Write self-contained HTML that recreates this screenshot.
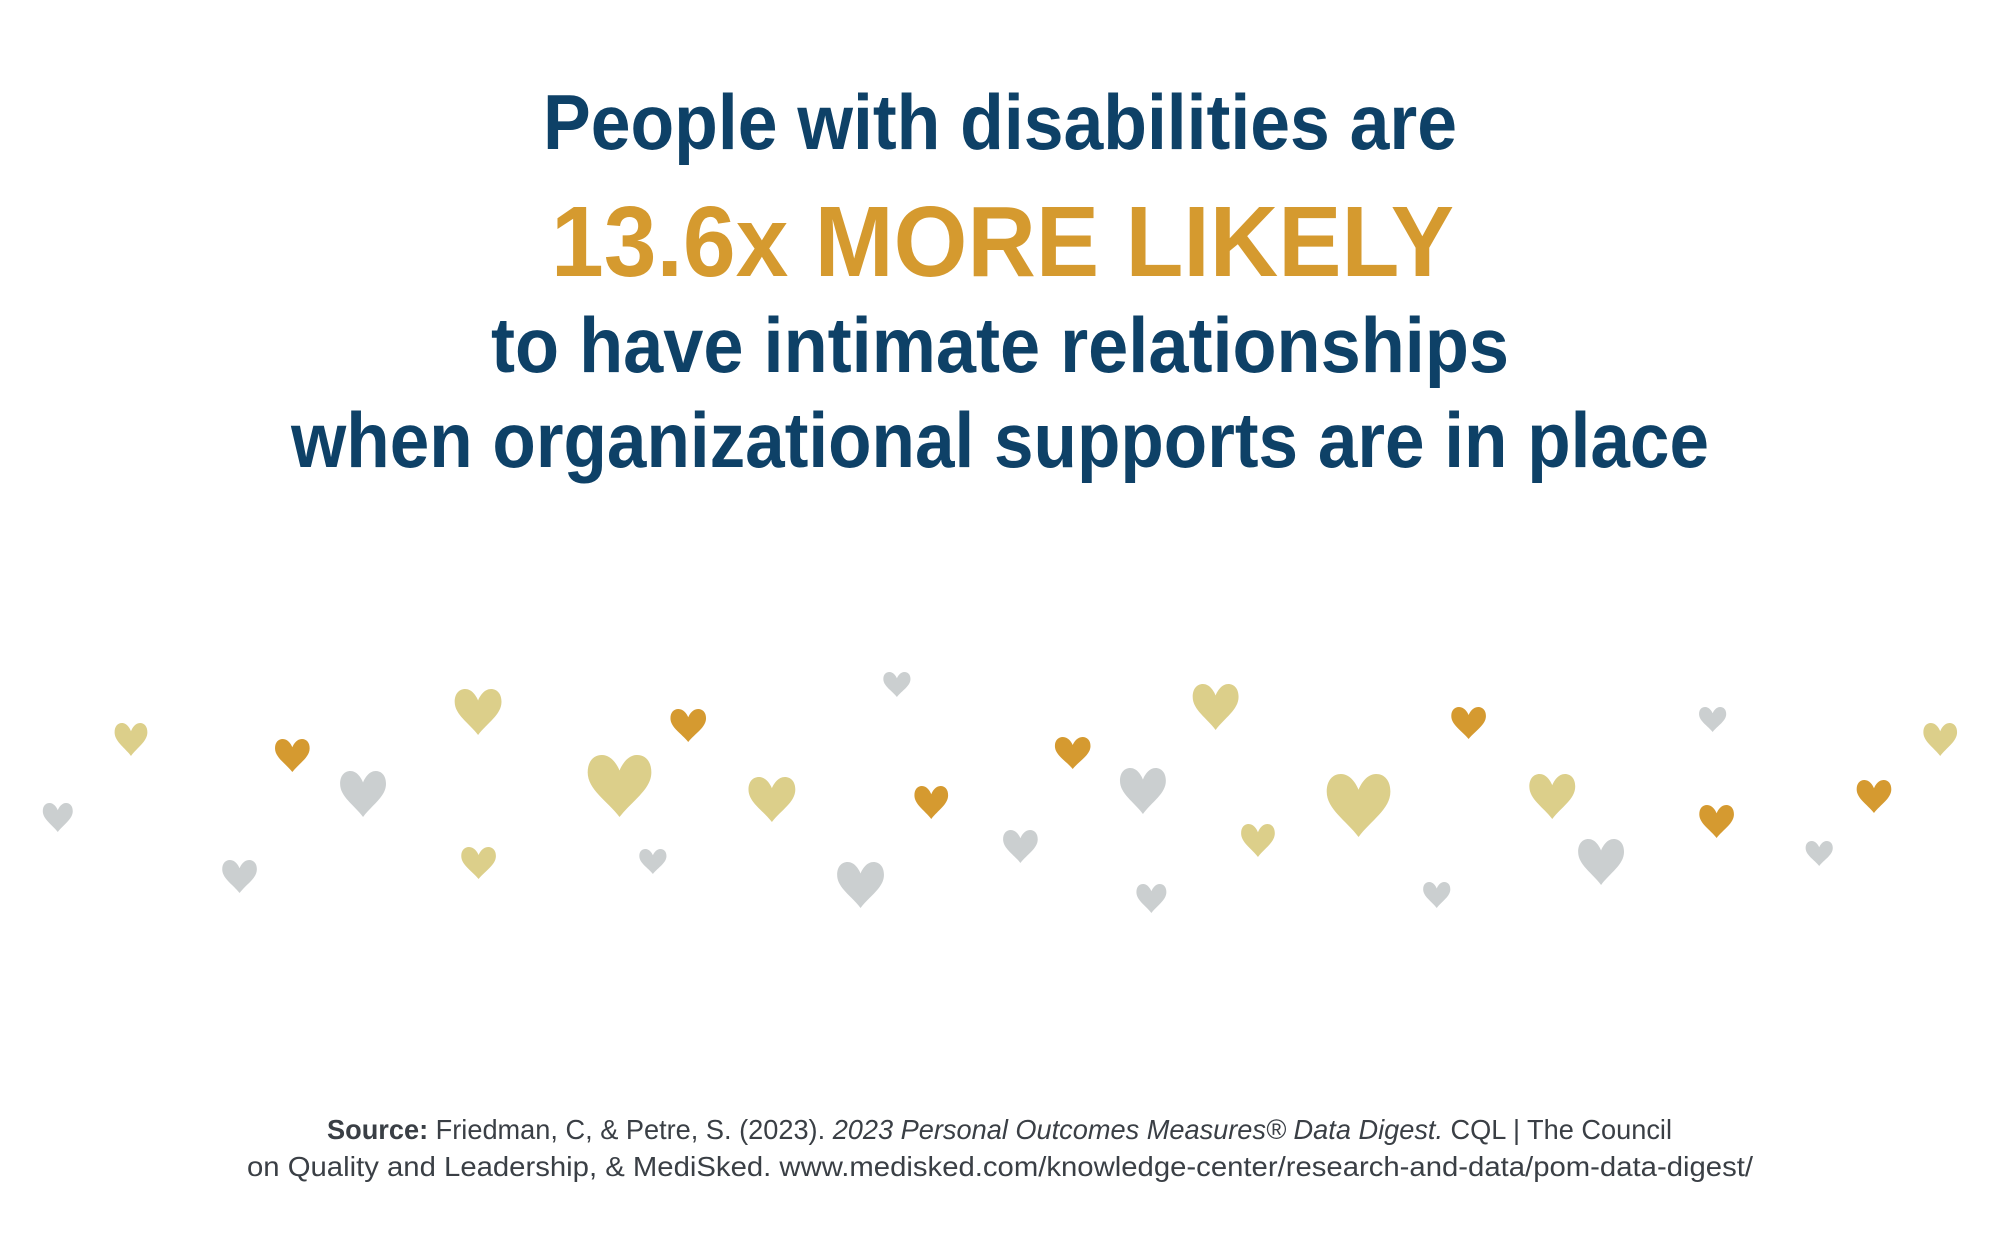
<!DOCTYPE html>
<html><head><meta charset="utf-8"><style>
html,body{margin:0;padding:0;background:#fff;}
svg{display:block;}
.n{fill:#0e4167;font-family:"Liberation Sans",sans-serif;font-weight:bold;}
.o{fill:#d59a2f;font-family:"Liberation Sans",sans-serif;font-weight:bold;}
.s{fill:#3a3f45;font-family:"Liberation Sans",sans-serif;font-size:28px;}
</style></head><body>
<svg width="2000" height="1250" viewBox="0 0 2000 1250" xmlns="http://www.w3.org/2000/svg">
<defs>
<path id="h" d="M50,100 C32,74 3,56 3,28 C3,10 12,0 24,0 C37,0 46,14 50,25 C54,14 63,0 76,0 C88,0 97,10 97,28 C97,56 68,74 50,100Z"/>
</defs>
<text class="n" x="543" y="149" font-size="78" textLength="914" lengthAdjust="spacingAndGlyphs">People with disabilities are</text>
<text class="o" x="551" y="276" font-size="100" textLength="903" lengthAdjust="spacingAndGlyphs">13.6x MORE LIKELY</text>
<text class="n" x="491" y="372" font-size="78" textLength="1018" lengthAdjust="spacingAndGlyphs">to have intimate relationships</text>
<text class="n" x="291" y="467" font-size="78" textLength="1418" lengthAdjust="spacingAndGlyphs">when organizational supports are in place</text>
<text class="s" x="327" y="1139" textLength="1345" lengthAdjust="spacingAndGlyphs"><tspan font-weight="bold">Source:</tspan> Friedman, C, &amp; Petre, S. (2023). <tspan font-style="italic">2023 Personal Outcomes Measures® Data Digest.</tspan> CQL | The Council</text>
<text class="s" x="247" y="1176" textLength="1506" lengthAdjust="spacingAndGlyphs">on Quality and Leadership, &amp; MediSked. www.medisked.com/knowledge-center/research-and-data/pom-data-digest/</text>
<g transform="translate(2,0) scale(0.996,1)">
<use href="#h" fill="#dccf8a" transform="translate(112,723) scale(0.35,0.33)"/>
<use href="#h" fill="#d59a30" transform="translate(273,739) scale(0.37,0.33)"/>
<use href="#h" fill="#cbcfd0" transform="translate(338,771) scale(0.49,0.46)"/>
<use href="#h" fill="#cbcfd0" transform="translate(40,803) scale(0.32,0.29)"/>
<use href="#h" fill="#cbcfd0" transform="translate(220,860) scale(0.37,0.33)"/>
<use href="#h" fill="#dccf8a" transform="translate(453,689) scale(0.50,0.46)"/>
<use href="#h" fill="#dccf8a" transform="translate(460,847) scale(0.37,0.32)"/>
<use href="#h" fill="#dccf8a" transform="translate(586,755) scale(0.68,0.62)"/>
<use href="#h" fill="#d59a30" transform="translate(670,709) scale(0.38,0.33)"/>
<use href="#h" fill="#cbcfd0" transform="translate(639,849) scale(0.29,0.25)"/>
<use href="#h" fill="#cbcfd0" transform="translate(884,672) scale(0.29,0.25)"/>
<use href="#h" fill="#dccf8a" transform="translate(748,777) scale(0.50,0.45)"/>
<use href="#h" fill="#d59a30" transform="translate(915,786) scale(0.36,0.33)"/>
<use href="#h" fill="#cbcfd0" transform="translate(837,862) scale(0.50,0.46)"/>
<use href="#h" fill="#d59a30" transform="translate(1056,737) scale(0.38,0.32)"/>
<use href="#h" fill="#dccf8a" transform="translate(1194,684) scale(0.49,0.46)"/>
<use href="#h" fill="#cbcfd0" transform="translate(1121,768) scale(0.49,0.46)"/>
<use href="#h" fill="#cbcfd0" transform="translate(1004,830) scale(0.37,0.33)"/>
<use href="#h" fill="#dccf8a" transform="translate(1243,824) scale(0.36,0.33)"/>
<use href="#h" fill="#cbcfd0" transform="translate(1138,884) scale(0.32,0.29)"/>
<use href="#h" fill="#dccf8a" transform="translate(1328,774) scale(0.68,0.63)"/>
<use href="#h" fill="#d59a30" transform="translate(1454,707) scale(0.37,0.32)"/>
<use href="#h" fill="#cbcfd0" transform="translate(1426,882) scale(0.29,0.26)"/>
<use href="#h" fill="#dccf8a" transform="translate(1532,774) scale(0.49,0.45)"/>
<use href="#h" fill="#cbcfd0" transform="translate(1581,839) scale(0.49,0.46)"/>
<use href="#h" fill="#cbcfd0" transform="translate(1703,707) scale(0.29,0.25)"/>
<use href="#h" fill="#d59a30" transform="translate(1703,805) scale(0.37,0.33)"/>
<use href="#h" fill="#d59a30" transform="translate(1861,780) scale(0.37,0.33)"/>
<use href="#h" fill="#cbcfd0" transform="translate(1810,841) scale(0.29,0.25)"/>
<use href="#h" fill="#dccf8a" transform="translate(1928,723) scale(0.36,0.33)"/>
</g>
</svg>
</body></html>
